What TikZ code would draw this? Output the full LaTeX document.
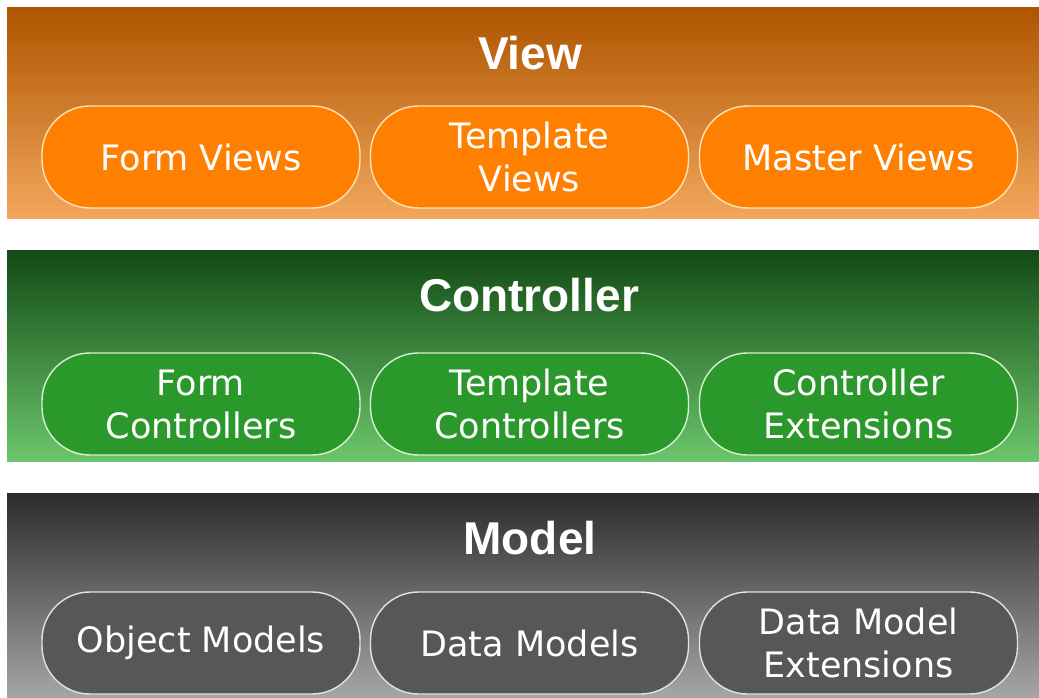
\documentclass[tikz,border=0pt]{standalone}
\usepackage{fontspec}
\setmainfont{Liberation Sans}
\newfontfamily\labfont{DejaVu Sans}
\definecolor{vtop}{HTML}{AE5500}
\definecolor{vbot}{HTML}{F3A75C}
\definecolor{ctop}{HTML}{124A15}
\definecolor{cbot}{HTML}{6CC66C}
\definecolor{mtop}{HTML}{2C2C2C}
\definecolor{mbot}{HTML}{A6A6A6}
\definecolor{vbox}{HTML}{FF8000}
\definecolor{vedge}{HTML}{FFE2B8}
\definecolor{cbox}{HTML}{2A982A}
\definecolor{cedge}{HTML}{D6F0D0}
\definecolor{mbox}{HTML}{575757}
\definecolor{medge}{HTML}{E2E2E2}
\tikzset{
  layerbox/.style={rounded corners=48pt, minimum width=318pt, minimum height=102pt,
    inner sep=0pt, align=center, text=white, line width=1.4pt,
    font=\labfont\fontsize{35}{43}\selectfont},
  layertitle/.style={text=white, inner sep=0pt, font=\bfseries\fontsize{46}{50}\selectfont}
}
\begin{document}
\begin{tikzpicture}[x=1pt,y=-1pt]
\useasboundingbox (0,0) rectangle (1039,698);
% bands
\shade[top color=vtop, bottom color=vbot] (7,8) rectangle (1039,218);
\shade[top color=ctop, bottom color=cbot] (7,250) rectangle (1039,461);
\shade[top color=mtop, bottom color=mbot] (7,493) rectangle (1039,698);
% titles
\node[layertitle] (vt) at (530,53) {View};
\node[layertitle] (ct) at (529,295) {Controller};
\node[layertitle] (mt) at (530,538) {Model};
% view boxes
\node[layerbox, fill=vbox, draw=vedge] (fv) at (201,157) {Form Views};
\node[layerbox, fill=vbox, draw=vedge] (tv) at (529.5,157) {Template\\Views};
\node[layerbox, fill=vbox, draw=vedge] (mv) at (858.5,157) {Master Views};
% controller boxes
\node[layerbox, fill=cbox, draw=cedge] (fc) at (201,404) {Form\\Controllers};
\node[layerbox, fill=cbox, draw=cedge] (tc) at (529.5,404) {Template\\Controllers};
\node[layerbox, fill=cbox, draw=cedge] (ce) at (858.5,404) {Controller\\Extensions};
% model boxes
\node[layerbox, fill=mbox, draw=medge] (om) at (201,643) {Object Models};
\node[layerbox, fill=mbox, draw=medge] (dm) at (529.5,643) {Data Models};
\node[layerbox, fill=mbox, draw=medge] (dme) at (858.5,643) {Data Model\\Extensions};
\end{tikzpicture}
\end{document}
